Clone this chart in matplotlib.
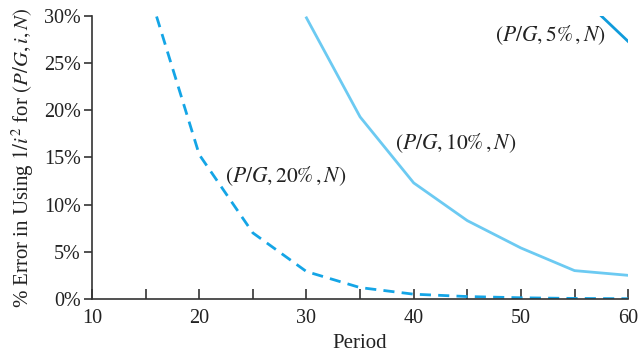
import matplotlib
matplotlib.use("Agg")
import matplotlib.pyplot as plt
from matplotlib.ticker import FixedLocator, FuncFormatter

plt.rcParams['font.family'] = ['Liberation Serif', 'DejaVu Serif']
plt.rcParams['mathtext.fontset'] = 'stix'

# Data (% error)
periods = [15, 20, 25, 30, 35, 40, 45, 50, 55, 60]
err_20 = [33.7, 15.3, 7.0, 2.9, 1.2, 0.5, 0.25, 0.12, 0.05, 0.02]
periods_10 = [30, 35, 40, 45, 50, 55, 60]
err_10 = [29.8, 19.3, 12.3, 8.3, 5.4, 3.0, 2.5]
periods_5 = [55, 60]
err_5 = [32.7, 27.3]

labels = [r'$(P/G,20\%\,,N)$', r'$(P/G,10\%\,,N)$', r'$(P/G,5\%\,,N)$']
label_pos = [(22.4, 13.0), (38.3, 16.5), (47.6, 28.0)]

fig = plt.figure(figsize=(6.39, 3.55), dpi=100)
ax = fig.add_axes([0.144, 0.158, 0.839, 0.797])

ax.plot(periods, err_20, color='#14a5e6', lw=2.0, ls=(0, (4, 2.6)))
ax.plot(periods_10, err_10, color='#6ccaf2', lw=2.0)
ax.plot(periods_5, err_5, color='#0f9bdb', lw=2.0)

for t, (x, y) in zip(labels, label_pos):
    ax.text(x, y, t, fontsize=15.5, ha='left', va='center', color='#222222')

ax.set_xlim(10, 60)
ax.set_ylim(0, 30)

for s in ['top', 'right']:
    ax.spines[s].set_visible(False)
for s in ['left', 'bottom']:
    ax.spines[s].set_color('#333333')
    ax.spines[s].set_linewidth(1.2)

ax.xaxis.set_major_locator(FixedLocator([10, 20, 30, 40, 50, 60]))
ax.xaxis.set_minor_locator(FixedLocator([15, 25, 35, 45, 55]))
ax.tick_params(axis='x', which='both', direction='in', length=7.5, width=1.2,
               color='#333333', labelsize=14.5, pad=7.5, labelcolor='#222222')
ax.yaxis.set_major_locator(FixedLocator([0, 5, 10, 15, 20, 25, 30]))
ax.yaxis.set_major_formatter(FuncFormatter(lambda v, p: f'{int(v)}%'))
ax.tick_params(axis='y', direction='out', length=6, width=1.2,
               color='#333333', labelsize=14.5, pad=2, labelcolor='#222222')

ax.set_xlabel('Period', fontsize=15, color='#222222', labelpad=4)
ax.set_ylabel(r'% Error in Using $1/i^2$ for $(P/G,i,N)$', fontsize=15,
              color='#222222')
ax.yaxis.set_label_coords(-0.104, 0.5)

fig.savefig('out.png', dpi=100)
